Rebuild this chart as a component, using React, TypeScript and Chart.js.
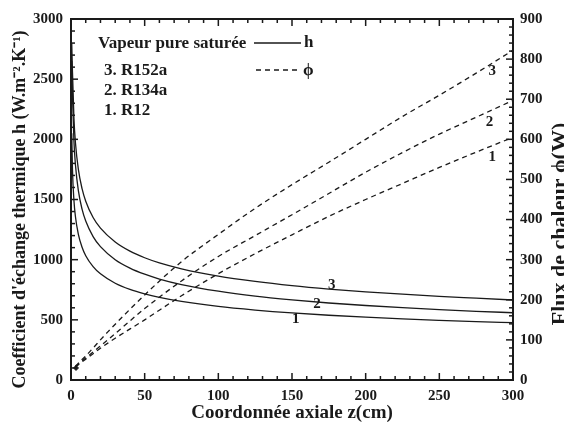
import React, { useEffect, useRef } from "react";
import { Chart, registerables } from "chart.js";

Chart.register(...registerables);

const zH = [0.5, 1, 2, 3, 5, 7.5, 10, 15, 20, 30, 40, 50, 60, 75, 100, 125, 150, 175, 200, 225, 250, 275, 300];
const h3 = [2800, 2560, 2173, 1974, 1750, 1590, 1486, 1350, 1262, 1147, 1071, 1016, 973, 924, 863, 819, 784, 756, 733, 713, 695, 680, 665];
const h2 = [2650, 2365, 1984, 1791, 1573, 1420, 1321, 1192, 1108, 1000, 930, 879, 839, 793, 738, 697, 666, 640, 619, 601, 585, 571, 559];
const h1 = [2050, 1747, 1491, 1359, 1210, 1103, 1033, 942, 882, 804, 753, 716, 687, 653, 611, 581, 557, 538, 522, 508, 496, 485, 476];

const zPhi = [3, 5, 10, 25, 50, 75, 100, 125, 150, 175, 200, 225, 250, 275, 300];
const phi1 = [32, 38, 52, 92, 150, 210, 265, 315, 362, 408, 450, 490, 530, 568, 605];
const phi2 = [33, 40, 55, 100, 178, 247, 308, 360, 412, 465, 518, 567, 613, 655, 697];
const phi3 = [34, 42, 60, 120, 212, 295, 363, 428, 487, 543, 600, 657, 710, 765, 822];

const markerZ = [3.4];
const markerPhi = [30];

const fluidLabels = ["3. R152a", "2. R134a", "1. R12"];
const legendTitle = "Vapeur pure saturée";
const xTitle = "Coordonnée axiale z(cm)";
const yTitle = "Coefficient d'échange thermique h (W.m⁻².K⁻¹)";
const y2Title = "Flux de chaleur ϕ(W)";

// curve label anchors (data units)
const hLabels = [
  { t: "3", z: 177, v: 790 },
  { t: "2", z: 167, v: 632 },
  { t: "1", z: 152.5, v: 507 },
];
const phiLabels = [
  { t: "3", z: 286, v: 771 },
  { t: "2", z: 284, v: 642 },
  { t: "1", z: 286, v: 555 },
];

const SERIF = '"Liberation Serif", "Times New Roman", serif';
const INK = "#1a1a1a";

function pts(xs: number[], ys: number[]) {
  return xs.map((x, i) => ({ x, y: ys[i] }));
}

const decorPlugin = {
  id: "decor",
  afterDraw(chart: any) {
    const ctx = chart.ctx;
    const ca = chart.chartArea;
    const sx = chart.scales.x;
    const sy = chart.scales.y;
    const sy2 = chart.scales.y2;
    ctx.save();
    ctx.strokeStyle = INK;
    ctx.fillStyle = INK;
    // top border
    ctx.lineWidth = 2;
    ctx.beginPath();
    ctx.moveTo(ca.left - 1, ca.top);
    ctx.lineTo(ca.right + 1, ca.top);
    ctx.stroke();

    ctx.lineWidth = 1.5;
    // x ticks (bottom and top)
    for (let v = 0; v <= 300; v += 10) {
      const px = sx.getPixelForValue(v);
      const len = v % 50 === 0 ? 7 : 4;
      ctx.beginPath();
      ctx.moveTo(px, ca.bottom);
      ctx.lineTo(px, ca.bottom - len);
      ctx.moveTo(px, ca.top);
      ctx.lineTo(px, ca.top + len);
      ctx.stroke();
    }
    // left ticks
    for (let v = 0; v <= 3000; v += 100) {
      const py = sy.getPixelForValue(v);
      const len = v % 500 === 0 ? 7 : 4;
      ctx.beginPath();
      ctx.moveTo(ca.left, py);
      ctx.lineTo(ca.left + len, py);
      ctx.stroke();
    }
    // right ticks
    for (let v = 0; v <= 900; v += 20) {
      const py = sy2.getPixelForValue(v);
      const len = v % 100 === 0 ? 7 : 4;
      ctx.beginPath();
      ctx.moveTo(ca.right, py);
      ctx.lineTo(ca.right - len, py);
      ctx.stroke();
    }

    // legend
    ctx.font = `bold 17px ${SERIF}`;
    ctx.textBaseline = "middle";
    ctx.textAlign = "left";
    ctx.fillText(legendTitle, ca.left + 27, ca.top + 25);
    ctx.lineWidth = 1.3;
    ctx.beginPath();
    ctx.moveTo(ca.left + 183, ca.top + 24);
    ctx.lineTo(ca.left + 230, ca.top + 24);
    ctx.stroke();
    ctx.fillText("h", ca.left + 233, ca.top + 24);
    ctx.setLineDash([5, 4]);
    ctx.beginPath();
    ctx.moveTo(ca.left + 185, ca.top + 51);
    ctx.lineTo(ca.left + 230, ca.top + 51);
    ctx.stroke();
    ctx.setLineDash([]);
    ctx.fillText("ϕ", ca.left + 232, ca.top + 52);
    fluidLabels.forEach((t, i) => {
      ctx.fillText(t, ca.left + 33, ca.top + 52 + i * 20);
    });

    // curve labels
    ctx.font = `bold 15px ${SERIF}`;
    ctx.textAlign = "center";
    hLabels.forEach((l) => {
      ctx.fillText(l.t, sx.getPixelForValue(l.z), sy.getPixelForValue(l.v));
    });
    phiLabels.forEach((l) => {
      ctx.fillText(l.t, sx.getPixelForValue(l.z), sy2.getPixelForValue(l.v));
    });

    // axis titles
    ctx.font = `bold 19px ${SERIF}`;
    ctx.textAlign = "center";
    ctx.textBaseline = "middle";
    ctx.fillText(xTitle, (ca.left + ca.right) / 2, 413);

    ctx.save();
    ctx.translate(25, (ca.top + ca.bottom) / 2 + 10);
    ctx.rotate(-Math.PI / 2);
    ctx.textBaseline = "alphabetic";
    ctx.font = `bold 18px ${SERIF}`;
    ctx.fillText(yTitle, 0, 0);
    ctx.restore();

    ctx.save();
    ctx.translate(566, 224);
    ctx.rotate(-Math.PI / 2);
    ctx.textBaseline = "alphabetic";
    ctx.font = `bold 22px ${SERIF}`;
    ctx.fillText(y2Title, 0, 0);
    ctx.restore();

    ctx.restore();
  },
};

export default function App() {
  const ref = useRef<HTMLCanvasElement | null>(null);
  useEffect(() => {
    if (!ref.current) return;
    const solid = { borderColor: INK, borderWidth: 1.3, pointRadius: 0, fill: false, cubicInterpolationMode: "monotone" as const, yAxisID: "y" };
    const dashed = { borderColor: INK, borderWidth: 1.3, pointRadius: 0, fill: false, borderDash: [5, 4], cubicInterpolationMode: "monotone" as const, yAxisID: "y2" };
    const tickFont = { family: SERIF, size: 15, weight: "bold" as const };
    const fmt = (v: any) => String(v);
    const chart = new Chart(ref.current, {
      type: "line",
      data: {
        datasets: [
          { ...solid, label: "h R152a", data: pts(zH, h3) },
          { ...solid, label: "h R134a", data: pts(zH, h2) },
          { ...solid, label: "h R12", data: pts(zH, h1) },
          { ...dashed, label: "phi R152a", data: pts(zPhi, phi3) },
          { ...dashed, label: "phi R134a", data: pts(zPhi, phi2) },
          { ...dashed, label: "phi R12", data: pts(zPhi, phi1) },
          {
            label: "marker",
            data: pts(markerZ, markerPhi),
            yAxisID: "y2",
            showLine: false,
            pointRadius: 2.5,
            pointStyle: "rectRot",
            backgroundColor: INK,
            borderColor: INK,
          },
        ],
      },
      options: {
        responsive: false,
        animation: false,
        layout: { padding: { top: 19, right: 0, left: 0, bottom: 0 } },
        plugins: { legend: { display: false }, tooltip: { enabled: false } },
        scales: {
          x: {
            type: "linear",
            min: 0,
            max: 300,
            grid: { display: false, drawTicks: false },
            border: { display: true, color: INK, width: 2 },
            ticks: { stepSize: 50, color: INK, font: tickFont, padding: 7, maxRotation: 0, callback: fmt },
            afterFit: (s: any) => { s.height = 49; },
          },
          y: {
            position: "left",
            min: 0,
            max: 3000,
            grid: { display: false, drawTicks: false },
            border: { display: true, color: INK, width: 2 },
            ticks: { stepSize: 500, color: INK, font: tickFont, padding: 8, callback: fmt },
            afterFit: (s: any) => { s.width = 71; },
          },
          y2: {
            position: "right",
            min: 0,
            max: 900,
            grid: { display: false, drawTicks: false },
            border: { display: true, color: INK, width: 2 },
            ticks: { stepSize: 100, color: INK, font: tickFont, padding: 7, callback: fmt },
            afterFit: (s: any) => { s.width = 51; },
          },
        },
      },
      plugins: [decorPlugin],
    });
    return () => chart.destroy();
  }, []);
  return (
    <div style={{ position: "fixed", left: 0, top: 0, width: 564, height: 429, background: "#fff" }}>
      <canvas ref={ref} width={564} height={429} style={{ width: 564, height: 429 }} />
    </div>
  );
}
